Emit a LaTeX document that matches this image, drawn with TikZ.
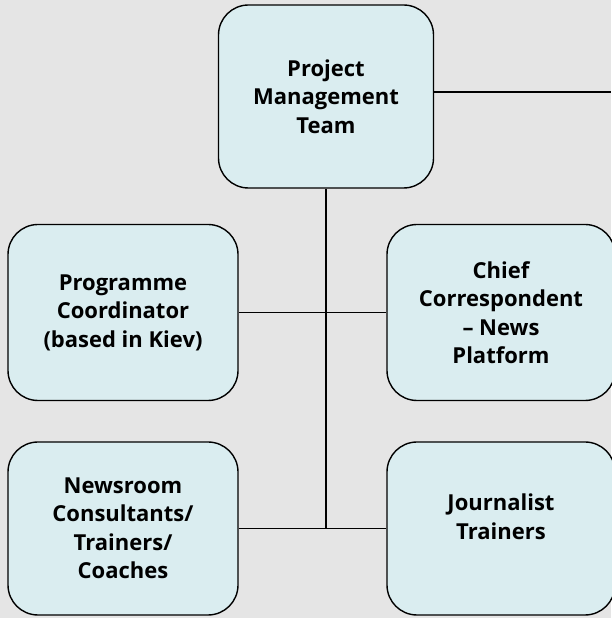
\documentclass[tikz,border=0pt]{standalone}
\usepackage{fontspec}
\setmainfont{Open Sans}
\begin{document}
\begin{tikzpicture}[x=1pt,y=1pt,
  boxfont/.style={font=\bfseries\fontsize{22}{28.5}\selectfont},
  box/.style={draw=black, line width=1.4pt, fill=boxfill, rounded corners=30pt,
    align=center, inner sep=0pt, boxfont},
  conn/.style={draw=black, line width=1.6pt}]
\definecolor{boxfill}{HTML}{DAEDF0}
\definecolor{bg}{HTML}{E5E5E5}
\useasboundingbox (0,0) rectangle (611,618);
\fill[bg] (0,0) rectangle (611,618);
\node[box, minimum width=215pt, minimum height=183pt] (pmt) at (326,521.5) {Project\\Management\\Team};
\node[box, minimum width=230pt, minimum height=176pt] (prog) at (123,305.5) {Programme\\Coordinator\\(based in Kiev)};
\node[box, minimum width=228pt, minimum height=176pt] (chief) at (501,305.5) {Chief\\Correspondent\\– News\\Platform};
\node[box, minimum width=230pt, minimum height=173pt] (news) at (123,89.5) {Newsroom\\Consultants/\\Trainers/\\Coaches};
\node[box, minimum width=228pt, minimum height=173pt] (jour) at (501,89.5) {};
\node[align=center, inner sep=0pt, boxfont] (jourtext) at (501,101) {Journalist\\Trainers};
\coordinate (bot) at (pmt.south |- news.east);
\coordinate (rightend) at (611,526);
\draw[conn] (pmt.south) -- (bot);
\draw[conn] (prog.east) -- (chief.west);
\draw[conn] (news.east) -- (jour.west);
\draw[conn] (pmt.east |- rightend) -- (rightend);
\end{tikzpicture}
\end{document}
